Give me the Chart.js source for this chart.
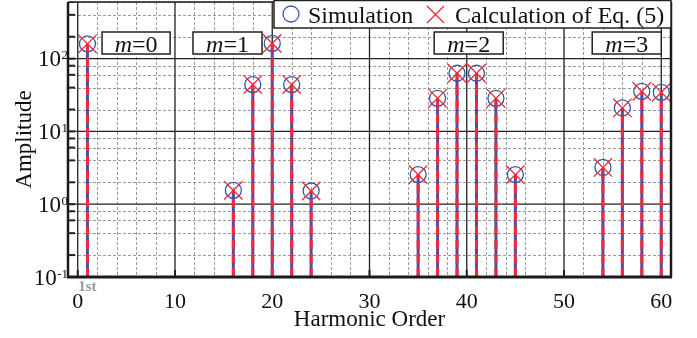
<!DOCTYPE html>
<html>
<head>
<meta charset="utf-8">
<script src="https://cdn.jsdelivr.net/npm/chart.js@4"></script>
<style>
  html, body { margin: 0; padding: 0; background: #fff; }
</style>
</head>
<body>
<canvas id="harmonicChart" width="697" height="338"></canvas>
<script>
// harmonic orders and amplitudes
const harmonics   = [1, 16, 18, 20, 22, 24, 35, 37, 39, 41, 43, 45, 54, 56, 58, 60];
const simulation  = [160, 1.55, 44, 162, 44, 1.52, 2.55, 28.5, 63, 63, 28.5, 2.55, 3.2, 21, 35.5, 34.5];
const calculation = [160, 1.55, 44, 162, 44, 1.52, 2.55, 28.5, 63, 63, 28.5, 2.55, 3.2, 21, 35.5, 34.5];

const xTicks = [0, 10, 20, 30, 40, 50, 60];
const yDecades = [-1, 0, 1, 2];
const yMin = 0.1, yMax = 600;

const groupLabels = ['0', '1', '2', '3'];
// x extent (in harmonic units) of each m= box
const groupBoxes = [[2.5, 9.5], [11.85, 18.95], [36.65, 43.75], [52.9, 60.0]];

const BLUE = '#3b56a8';
const RED = '#ee2b3b';
const SERIF = '"Liberation Serif", "Times New Roman", serif';

// minor + major values on the log axis
const yGrid = [];
yDecades.forEach(e => [1, 2, 4, 6, 8].forEach(m => {
  const v = m * Math.pow(10, e);
  if (v <= yMax + 1e-9) yGrid.push(v);
}));

function stemPoints(values) {
  const pts = [];
  harmonics.forEach((h, i) => {
    pts.push({ x: h, y: yMin }, { x: h, y: values[i] }, { x: h, y: null });
  });
  return pts;
}

const gridPlugin = {
  id: 'gridPlugin',
  beforeDatasetsDraw(chart) {
    const { ctx, chartArea: a, scales: { x, y } } = chart;
    ctx.save();
    ctx.beginPath();
    ctx.rect(a.left, a.top, a.width, a.height);
    ctx.clip();
    // dashed minor grid
    ctx.strokeStyle = '#9a9a9a';
    ctx.lineWidth = 1;
    ctx.setLineDash([3, 2]);
    for (let v = 0; v <= 61; v += 2) {
      if (v % 10 === 0) continue;
      const px = Math.round(x.getPixelForValue(v)) + 0.5;
      ctx.beginPath(); ctx.moveTo(px, a.top); ctx.lineTo(px, a.bottom); ctx.stroke();
    }
    yGrid.forEach(v => {
      if (Math.abs(Math.log10(v) % 1) < 1e-6) return;
      const py = Math.round(y.getPixelForValue(v)) + 0.5;
      ctx.beginPath(); ctx.moveTo(a.left, py); ctx.lineTo(a.right, py); ctx.stroke();
    });
    // solid major grid
    ctx.setLineDash([]);
    ctx.strokeStyle = '#222';
    ctx.lineWidth = 1.3;
    xTicks.forEach(v => {
      const px = x.getPixelForValue(v);
      ctx.beginPath(); ctx.moveTo(px, a.top); ctx.lineTo(px, a.bottom); ctx.stroke();
    });
    yDecades.forEach(e => {
      const py = y.getPixelForValue(Math.pow(10, e));
      ctx.beginPath(); ctx.moveTo(a.left, py); ctx.lineTo(a.right, py); ctx.stroke();
    });
    // inner tick marks
    ctx.lineWidth = 2;
    yGrid.forEach(v => {
      const py = y.getPixelForValue(v);
      ctx.beginPath(); ctx.moveTo(a.left, py); ctx.lineTo(a.left + 7, py); ctx.stroke();
    });
    xTicks.forEach(v => {
      const px = x.getPixelForValue(v);
      ctx.beginPath(); ctx.moveTo(px, a.bottom); ctx.lineTo(px, a.bottom - 7); ctx.stroke();
    });
    ctx.restore();

    // m= boxes
    ctx.save();
    groupBoxes.forEach((b, i) => {
      const x0 = x.getPixelForValue(b[0]), x1 = x.getPixelForValue(b[1]);
      ctx.fillStyle = '#fff';
      ctx.fillRect(x0, 32, x1 - x0, 22);
      ctx.strokeStyle = '#222';
      ctx.lineWidth = 1.5;
      ctx.strokeRect(x0, 32, x1 - x0, 22);
      ctx.fillStyle = '#111';
      ctx.textBaseline = 'alphabetic';
      ctx.font = 'italic 24px ' + SERIF;
      const mW = ctx.measureText('m').width;
      ctx.font = '24px ' + SERIF;
      const rest = '=' + groupLabels[i];
      const rW = ctx.measureText(rest).width;
      const sx = (x0 + x1) / 2 - (mW + rW) / 2;
      ctx.font = 'italic 24px ' + SERIF;
      ctx.fillText('m', sx, 52);
      ctx.font = '24px ' + SERIF;
      ctx.fillText(rest, sx + mW, 52);
    });
    ctx.restore();
  },
  afterDatasetsDraw(chart) {
    const { ctx, chartArea: a, scales: { x, y } } = chart;
    ctx.save();
    ctx.strokeStyle = '#1a1a1a';
    ctx.lineWidth = 3;
    ctx.beginPath(); ctx.moveTo(a.left - 1, a.bottom); ctx.lineTo(a.right + 1, a.bottom); ctx.stroke();
    ctx.lineWidth = 2.5;
    ctx.beginPath(); ctx.moveTo(a.left, a.top); ctx.lineTo(a.left, a.bottom); ctx.stroke();
    ctx.beginPath(); ctx.moveTo(a.right, a.top); ctx.lineTo(a.right, a.bottom); ctx.stroke();
    ctx.lineWidth = 1.5;
    ctx.beginPath(); ctx.moveTo(a.left, a.top); ctx.lineTo(a.right, a.top); ctx.stroke();

    // decade labels with exponents
    ctx.fillStyle = '#111';
    ctx.textBaseline = 'alphabetic';
    yDecades.forEach(e => {
      const py = y.getPixelForValue(Math.pow(10, e));
      const exp = String(e);
      ctx.font = '13px ' + SERIF;
      const ew = ctx.measureText(exp).width;
      ctx.textAlign = 'left';
      ctx.fillText(exp, a.left - ew, py + 0.5);
      ctx.font = '23px ' + SERIF;
      ctx.textAlign = 'right';
      ctx.fillText('10', a.left - ew - 0.5, py + 7.5);
    });

    // fundamental marker under the axis
    ctx.fillStyle = '#999';
    ctx.font = 'bold 15px ' + SERIF;
    ctx.textAlign = 'center';
    ctx.fillText('1st', x.getPixelForValue(harmonics[0]), 291);
    ctx.restore();
  },
  afterDraw(chart) {
    const { ctx, chartArea: a } = chart;
    ctx.save();
    const lx0 = 274, lx1 = a.right;
    ctx.fillStyle = '#fff';
    ctx.fillRect(lx0, 0, lx1 - lx0, 28);
    ctx.strokeStyle = '#222';
    ctx.lineWidth = 1.5;
    ctx.strokeRect(lx0, 0.5, lx1 - lx0, 27.5);
    // circle symbol
    ctx.strokeStyle = BLUE;
    ctx.lineWidth = 1.3;
    ctx.beginPath(); ctx.arc(291, 14, 8, 0, Math.PI * 2); ctx.stroke();
    // cross symbol
    ctx.strokeStyle = RED;
    ctx.beginPath();
    ctx.moveTo(427, 6); ctx.lineTo(444, 23);
    ctx.moveTo(444, 6); ctx.lineTo(427, 23);
    ctx.stroke();
    ctx.fillStyle = '#111';
    ctx.font = '24px ' + SERIF;
    ctx.textBaseline = 'alphabetic';
    ctx.fillText('Simulation', 308, 22.5);
    ctx.fillText('Calculation of Eq. (5)', 455, 22.5);
    ctx.restore();
  }
};

const ctx = document.getElementById('harmonicChart');

new Chart(ctx, {
  type: 'line',
  data: {
    datasets: [
      {
        label: 'stem-sim',
        data: stemPoints(simulation),
        borderColor: BLUE,
        borderWidth: 3,
        pointRadius: 0,
        spanGaps: false,
        order: 4
      },
      {
        label: 'stem-calc',
        data: stemPoints(calculation),
        borderColor: RED,
        borderWidth: 3,
        borderDash: [9, 5],
        pointRadius: 0,
        spanGaps: false,
        order: 3
      },
      {
        label: 'Simulation',
        data: harmonics.map((h, i) => ({ x: h, y: simulation[i] })),
        showLine: false,
        pointStyle: 'circle',
        pointRadius: 8,
        pointBorderWidth: 1.3,
        pointBorderColor: BLUE,
        pointBackgroundColor: 'rgba(0,0,0,0)',
        clip: false,
        order: 2
      },
      {
        label: 'Calculation of Eq. (5)',
        data: harmonics.map((h, i) => ({ x: h, y: calculation[i] })),
        showLine: false,
        pointStyle: 'crossRot',
        pointRadius: 13,
        pointBorderWidth: 1.3,
        pointBorderColor: RED,
        pointBackgroundColor: RED,
        clip: false,
        order: 1
      }
    ]
  },
  options: {
    responsive: false,
    animation: false,
    devicePixelRatio: 1,
    layout: { autoPadding: false, padding: { top: 2, right: 26, left: 0, bottom: 0 } },
    plugins: {
      legend: { display: false },
      tooltip: { enabled: false }
    },
    scales: {
      x: {
        type: 'linear',
        min: -1,
        max: 61,
        grid: { display: false, drawTicks: false },
        border: { display: false },
        afterBuildTicks: s => { s.ticks = xTicks.map(v => ({ value: v })); },
        afterFit: s => { s.height = 61; },
        ticks: {
          font: { family: SERIF, size: 22 },
          color: '#111',
          padding: 12,
          maxRotation: 0,
          autoSkip: false
        },
        title: {
          display: true,
          text: 'Harmonic Order',
          font: { family: SERIF, size: 23 },
          color: '#111',
          padding: { top: 0, bottom: 4 }
        }
      },
      y: {
        type: 'logarithmic',
        min: yMin,
        max: yMax,
        grid: { display: false, drawTicks: false },
        border: { display: false },
        afterBuildTicks: s => { s.ticks = yGrid.map(v => ({ value: v })); },
        afterFit: s => { s.width = 68; },
        ticks: { display: false },
        title: {
          display: true,
          text: 'Amplitude',
          font: { family: SERIF, size: 23 },
          color: '#111',
          padding: { top: 11, bottom: 0 }
        }
      }
    }
  },
  plugins: [gridPlugin]
});
</script>
</body>
</html>
